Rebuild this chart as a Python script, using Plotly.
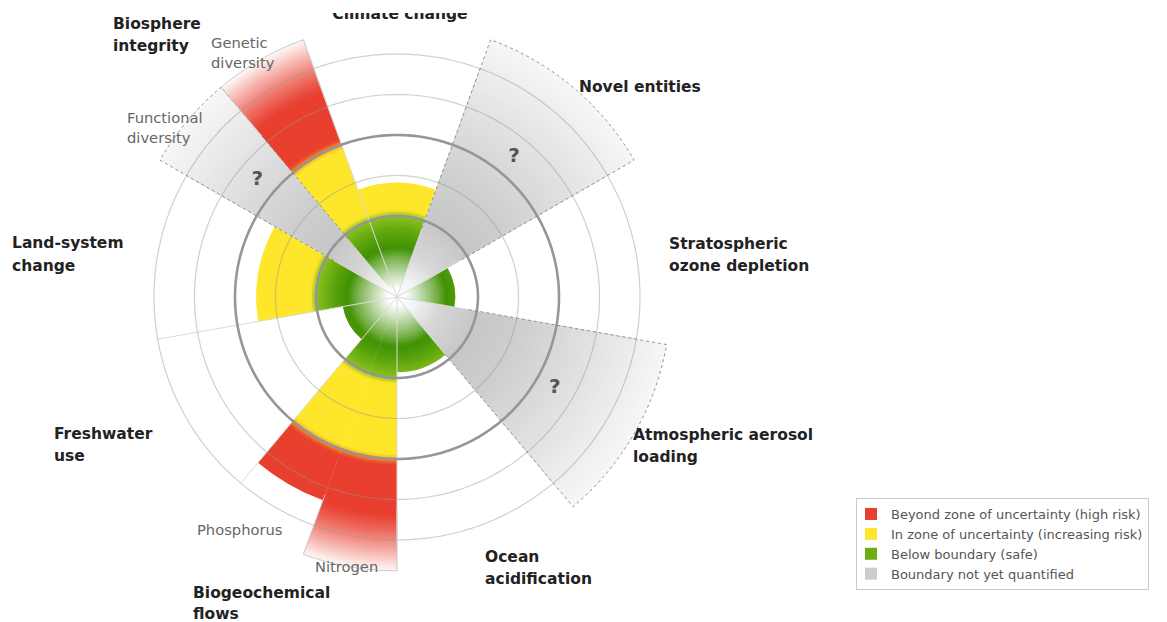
import numpy as np
import plotly.graph_objects as go

# ---------------- data ----------------
boundaries = ["Climate change", "Novel entities", "Stratospheric ozone depletion",
              "Atmospheric aerosol loading", "Ocean acidification", "Biogeochemical flows",
              "Freshwater use", "Land-system change", "Biosphere integrity"]

indicators = ["Climate change", "Novel entities", "Stratospheric ozone depletion",
              "Atmospheric aerosol loading", "Ocean acidification", "Nitrogen", "Phosphorus",
              "Freshwater use", "Land-system change", "Functional diversity", "Genetic diversity"]

indicator_boundary = ["Climate change", "Novel entities", "Stratospheric ozone depletion",
                      "Atmospheric aerosol loading", "Ocean acidification",
                      "Biogeochemical flows", "Biogeochemical flows", "Freshwater use",
                      "Land-system change", "Biosphere integrity", "Biosphere integrity"]

# control variable relative to the planetary boundary (1 = boundary), None = not quantified
status = [1.41, None, 0.72, None, 0.93, 3.38, 2.67, 0.68, 1.74, None, 3.38]

zone_limits = [1.0, 2.0]          # safe boundary, top of zone of uncertainty
ring_values = [1.0, 1.5, 2.0, 2.5, 3.0]
major_rings = [1.0, 2.0]

legend_labels = ["Beyond zone of uncertainty (high risk)",
                 "In zone of uncertainty (increasing risk)",
                 "Below boundary (safe)",
                 "Boundary not yet quantified"]

# ---------------- geometry / style constants ----------------
W, H = 1167, 622
CX, CY = 397, 297
PX_PER_UNIT = 81.0
R_MAX = 3.45
UNQ_EXTENT = 3.38
DR = 0.03
FONT = "DejaVu Sans"

sector = 360.0 / len(boundaries)
theta_c, theta_w = [], []
for i, b in enumerate(indicator_boundary):
    bi = boundaries.index(b)
    subs = [j for j, x in enumerate(indicator_boundary) if x == b]
    w = sector / len(subs)
    k = subs.index(i)
    theta_c.append(-sector / 2 + bi * sector + (k + 0.5) * w)
    theta_w.append(w)

WHITE = (255, 255, 255)
GREEN_DARK = (66, 146, 4)
GREEN_LIGHT = (138, 194, 30)
YELLOW = (254, 230, 42)
ORANGE = (246, 150, 32)
RED = (232, 63, 47)


def clamp(x):
    return max(0.0, min(1.0, x))


def mix(a, b, t):
    return tuple(a[k] + (b[k] - a[k]) * t for k in range(3))


def rgb(c):
    return "rgb(%d,%d,%d)" % tuple(int(round(v)) for v in c)


def glow(c, r):
    t = clamp((0.6 - r) / 0.5)
    return mix(c, WHITE, t ** 0.85)


def green_col(r):
    c = mix(GREEN_DARK, GREEN_LIGHT, clamp((r - 0.6) / 0.4) ** 1.3)
    return glow(c, r)


def yellow_col(r):
    c = YELLOW
    if r < 1.07:
        c = mix(GREEN_LIGHT, YELLOW, clamp((r - 1.0) / 0.07))
    if r > 1.95:
        c = mix(YELLOW, ORANGE, clamp((r - 1.95) / 0.05))
    return c


def red_col(r):
    c = mix(ORANGE, RED, clamp((r - 2.0) / 0.07))
    t = clamp((r - 2.68) / 0.70)
    return mix(c, WHITE, 0.97 * t ** 1.2)


def gray_col(r):
    v = float(np.interp(r, [0, 0.2, 0.55, 1.0, 1.6, 2.3, 3.0, 3.4],
                        [255, 246, 214, 199, 207, 222, 238, 247]))
    return (v, v, v)


# ---------------- build gradient segments ----------------
cats = {k: dict(r=[], theta=[], base=[], width=[], color=[], mid=[]) for k in range(4)}
for i in range(len(indicators)):
    v = status[i]
    extent = v if v is not None else UNQ_EXTENT
    edges = np.concatenate([np.arange(0, extent, DR), zone_limits, [extent]])
    edges = np.unique(np.round(edges[edges <= extent], 6))
    for r0, r1 in zip(edges[:-1], edges[1:]):
        rm = 0.5 * (r0 + r1)
        if v is None:
            cat, col = 3, gray_col(rm)
        elif rm < zone_limits[0]:
            cat, col = 2, green_col(rm)
        elif rm < zone_limits[1]:
            cat, col = 1, yellow_col(rm)
        else:
            cat, col = 0, red_col(rm)
        top = min(r1 + DR * 0.5, extent)
        d = cats[cat]
        d["r"].append(top - r0)
        d["base"].append(r0)
        d["theta"].append(theta_c[i])
        d["width"].append(theta_w[i])
        d["color"].append(rgb(col))
        d["mid"].append(rm)

# put a representative segment first (used for the legend swatch)
rep_r = {0: 2.3, 1: 1.5, 2: 0.85, 3: 1.4}
for k, d in cats.items():
    j = int(np.argmin([abs(m - rep_r[k]) for m in d["mid"]]))
    for key in ["r", "theta", "base", "width", "color", "mid"]:
        d[key].insert(0, d[key].pop(j))

fig = go.Figure()

# sector dividers
for b in range(len(boundaries)):
    a = -sector / 2 + b * sector
    fig.add_trace(go.Scatterpolar(r=[0, ring_values[-1]], theta=[a, a], mode="lines",
                                  line=dict(color="rgb(218,218,218)", width=1),
                                  hoverinfo="skip", showlegend=False))


def bar_trace(k, rank):
    d = cats[k]
    return go.Barpolar(r=d["r"], base=d["base"], theta=d["theta"], width=d["width"],
                       marker=dict(color=d["color"], line=dict(width=0)),
                       name=legend_labels[k], legendrank=rank, hoverinfo="skip")


fig.add_trace(bar_trace(3, 4))
fig.add_trace(bar_trace(2, 3))
fig.add_trace(bar_trace(1, 2))

ring_theta = np.linspace(0, 360, 361)
for rv in ring_values:
    if rv not in major_rings:
        fig.add_trace(go.Scatterpolar(r=[rv] * len(ring_theta), theta=ring_theta, mode="lines",
                                      line=dict(color="rgba(150,150,150,0.45)", width=1.2),
                                      hoverinfo="skip", showlegend=False))

fig.add_trace(bar_trace(0, 1))

for rv in major_rings:
    fig.add_trace(go.Scatterpolar(r=[rv] * len(ring_theta), theta=ring_theta, mode="lines",
                                  line=dict(color="rgb(150,150,150)", width=2.6),
                                  hoverinfo="skip", showlegend=False))

# outlines of not-quantified sectors and faded red ends
for i in range(len(indicators)):
    v = status[i]
    t1 = theta_c[i] - theta_w[i] / 2
    t2 = theta_c[i] + theta_w[i] / 2
    arc = np.linspace(t1, t2, 30)
    if v is None:
        rr = [0.9, UNQ_EXTENT] + [UNQ_EXTENT] * len(arc) + [UNQ_EXTENT, 0.9]
        tt = [t1, t1] + list(arc) + [t2, t2]
        fig.add_trace(go.Scatterpolar(r=rr, theta=tt, mode="lines",
                                      line=dict(color="rgba(130,130,130,0.85)", width=1, dash="dot"),
                                      hoverinfo="skip", showlegend=False))
    elif v > 3.0:
        rr = [2.6, v] + [v] * len(arc) + [v, 2.6]
        tt = [t1, t1] + list(arc) + [t2, t2]
        fig.add_trace(go.Scatterpolar(r=rr, theta=tt, mode="lines",
                                      line=dict(color="rgb(200,200,200)", width=1),
                                      hoverinfo="skip", showlegend=False))

# question marks
q_theta = [theta_c[i] for i in range(len(indicators)) if status[i] is None]
fig.add_trace(go.Scatterpolar(r=[2.25] * len(q_theta), theta=q_theta, mode="text",
                              text=["?"] * len(q_theta),
                              textfont=dict(family=FONT, size=20, color="#555555", weight="bold"),
                              hoverinfo="skip", showlegend=False, cliponaxis=False))

BOLD, SUB = 15.5, 14.7

# "Climate change" title: its upper part is cut off in the original figure,
# reproduced by clipping a text mark to a small invisible cartesian area
CLIP_TOP, CLIP_BOTTOM = 13, 45
title_y = (CLIP_BOTTOM - 15) / (CLIP_BOTTOM - CLIP_TOP)
fig.add_trace(go.Scatter(x=[0.5], y=[title_y], mode="text", text=[boundaries[0]],
                         textposition="middle center",
                         textfont=dict(family=FONT, size=BOLD, color="#222222", weight="bold"),
                         cliponaxis=True, hoverinfo="skip", showlegend=False))

R_PX = R_MAX * PX_PER_UNIT
fig.update_layout(
    width=W, height=H, autosize=False,
    margin=dict(l=0, r=0, t=0, b=0),
    paper_bgcolor="white", plot_bgcolor="rgba(0,0,0,0)",
    xaxis=dict(domain=[300 / W, 500 / W], range=[0, 1], visible=False, fixedrange=True),
    yaxis=dict(domain=[1 - CLIP_BOTTOM / H, 1 - CLIP_TOP / H], range=[0, 1],
               visible=False, fixedrange=True),
    polar=dict(
        domain=dict(x=[(CX - R_PX) / W, (CX + R_PX) / W],
                    y=[1 - (CY + R_PX) / H, 1 - (CY - R_PX) / H]),
        bgcolor="rgba(0,0,0,0)",
        radialaxis=dict(range=[0, R_MAX], visible=False),
        angularaxis=dict(direction="clockwise", rotation=90, visible=False),
    ),
    legend=dict(x=856 / W, y=1 - 498 / H, xanchor="left", yanchor="top",
                bordercolor="#c8c8c8", borderwidth=1, bgcolor="white",
                font=dict(family=FONT, size=13, color="#555555"),
                indentation=-6,
                itemclick=False, itemdoubleclick=False),
)


def label(text, x, y, size, color, bold, xanchor="left"):
    return dict(text=text, x=(x - 2) / W, y=1 - y / H, xref="paper", yref="paper",
                xanchor=xanchor, yanchor="middle", showarrow=False,
                font=dict(family=FONT, size=size, color=color,
                          weight="bold" if bold else "normal"))


annotations = [
    label("Biosphere", 113, 24, BOLD, "#222222", True),
    label("integrity", 113, 46, BOLD, "#222222", True),
    label("Novel entities", 579, 87, BOLD, "#222222", True),
    label("Stratospheric", 669, 244, BOLD, "#222222", True),
    label("ozone depletion", 669, 266, BOLD, "#222222", True),
    label("Atmospheric aerosol", 633, 435, BOLD, "#222222", True),
    label("loading", 633, 457, BOLD, "#222222", True),
    label("Ocean", 485, 557, BOLD, "#222222", True),
    label("acidification", 485, 579, BOLD, "#222222", True),
    label("Biogeochemical", 193, 593, BOLD, "#222222", True),
    label("flows", 193, 614, BOLD, "#222222", True),
    label("Freshwater", 54, 434, BOLD, "#222222", True),
    label("use", 54, 456, BOLD, "#222222", True),
    label("Land-system", 12, 243, BOLD, "#222222", True),
    label("change", 12, 266, BOLD, "#222222", True),
    label("Genetic", 211, 43, SUB, "#666666", False),
    label("diversity", 211, 63, SUB, "#666666", False),
    label("Functional", 127, 117, SUB, "#666666", False),
    label("diversity", 127, 137, SUB, "#666666", False),
    label("Phosphorus", 197, 529, SUB, "#666666", False),
    label("Nitrogen", 315, 566, SUB, "#666666", False),
]
fig.update_layout(annotations=annotations)

# page body without the browser's default 8px margin, so the figure fills the window
fig.write_html("out.html", config={"displayModeBar": False},
               post_script="document.body.style.margin='0px';")
